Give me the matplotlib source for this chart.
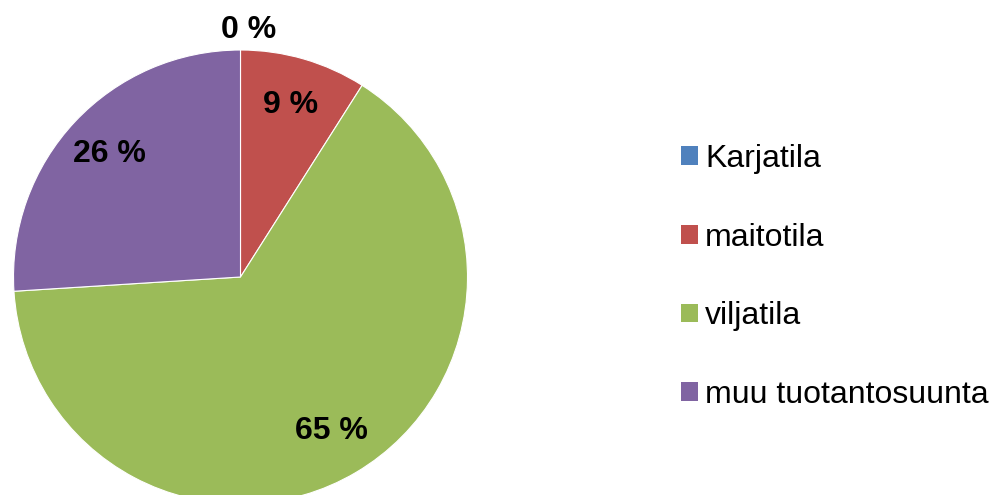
import numpy as np
import matplotlib.pyplot as plt
from matplotlib.patches import Patch

# ==========================================
# DATOS
# ==========================================

luokat = ["Karjatila", "maitotila", "viljatila", "muu tuotantosuunta"]
osuudet = [0, 9, 65, 26]
varit = ["#4F81BD", "#C0504D", "#9BBB59", "#8064A2"]

plt.rcParams["font.family"] = ["Liberation Sans", "DejaVu Sans"]

# ==========================================
# KUVA
# ==========================================

fig = plt.figure(figsize=(9.91, 4.95), dpi=100)
ax = fig.add_axes([0, 0, 1, 1])

keski = (240.5, 495 - 277)
sade = 227

wedges, texts, autotexts = ax.pie(
    osuudet,
    colors=varit,
    startangle=90,
    counterclock=False,
    center=keski,
    radius=sade,
    autopct=lambda p: f"{p:.0f} %",
    pctdistance=0.79,
    wedgeprops=dict(linewidth=0.8, edgecolor="white"),
    textprops=dict(fontsize=23, fontweight="bold", color="black"),
    frame=True,
)
ax.set_xlim(0, 991)
ax.set_ylim(0, 495)
ax.set_aspect("equal")
ax.axis("off")

# 0 % -label ulos piirakan yläpuolelle
w0 = wedges[0]
kulma = np.deg2rad((w0.theta1 + w0.theta2) / 2)
autotexts[0].set_position(
    (keski[0] + 1.09 * sade * np.cos(kulma) + 8,
     keski[1] + 1.09 * sade * np.sin(kulma))
)

kahvat = [Patch(facecolor=c, edgecolor="none") for c in varit]
fig.legend(
    kahvat,
    luokat,
    loc="center left",
    bbox_to_anchor=(681 / 991, 1 - 277 / 495),
    frameon=False,
    fontsize=23,
    handlelength=0.53,
    handleheight=0.53,
    handletextpad=0.22,
    labelspacing=1.52,
    borderpad=0,
    borderaxespad=0,
)

fig.savefig("out.png", dpi=100)
